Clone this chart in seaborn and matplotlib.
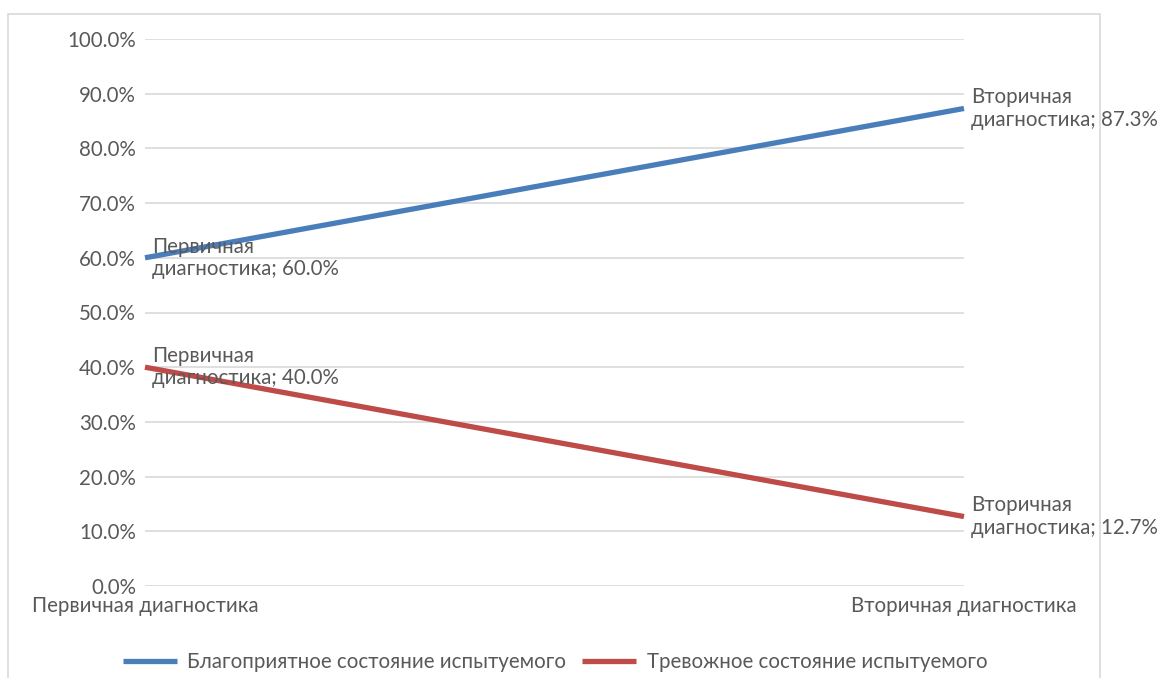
import matplotlib
matplotlib.use("Agg")
import matplotlib.pyplot as plt
import seaborn as sns
import pandas as pd
from matplotlib.patches import Rectangle

stages = ["Первичная диагностика", "Вторичная диагностика"]
favorable = [0.600, 0.873]
anxious = [0.400, 0.127]
series_names = ["Благоприятное состояние испытуемого", "Тревожное состояние испытуемого"]
y_ticks = [0.0, 0.1, 0.2, 0.3, 0.4, 0.5, 0.6, 0.7, 0.8, 0.9, 1.0]

sns.set_theme(style="white")
plt.rcParams['font.family'] = ['Lato', 'DejaVu Sans']

W, H = 1161, 678
DPI = 100
fig = plt.figure(figsize=(W / DPI, H / DPI), dpi=DPI)
ax = fig.add_axes([145 / W, 1 - 586 / H, (964 - 145) / W, (586 - 39) / H])

df = pd.DataFrame({
    "stage": stages * 2,
    "pos": list(range(len(stages))) * 2,
    "value": favorable + anxious,
    "series": [series_names[0]] * 2 + [series_names[1]] * 2,
})
palette = {series_names[0]: "#4A7EBB", series_names[1]: "#BE4B48"}
sns.lineplot(data=df, x="pos", y="value", hue="series", palette=palette,
             linewidth=3.8, ax=ax, legend=True, sort=False)
for line in ax.lines:
    line.set_clip_on(False)
    line.set_solid_capstyle("butt")

txt_col = "#595959"
fs = 14.8
ax.set_xlim(0, 1)
ax.set_ylim(0, 1)
ax.set_yticks(y_ticks)
ax.set_yticklabels([f"{v*100:.1f}%" for v in y_ticks], fontsize=fs, color=txt_col)
ax.set_xticks(range(len(stages)))
ax.set_xticklabels(stages, fontsize=fs, color=txt_col)
ax.tick_params(axis="both", length=0)
ax.tick_params(axis="y", pad=6.5)
ax.tick_params(axis="x", pad=7)
ax.grid(axis="y", color="#D9D9D9", linewidth=1.2)
ax.set_axisbelow(True)
for s in ax.spines.values():
    s.set_visible(False)
ax.set_xlabel("")
ax.set_ylabel("")

for vals in (favorable, anxious):
    for i, v in enumerate(vals):
        ax.annotate(f"{stages[i].split()[0]}\n{stages[i].split()[1]}; {v*100:.1f}%",
                    xy=(i, v), xytext=(5, 0), textcoords="offset points",
                    ha="left", va="center", fontsize=fs, color=txt_col,
                    linespacing=1.15, annotation_clip=False)

handles, labels = ax.get_legend_handles_labels()
leg = ax.legend(handles, labels, loc="center", bbox_to_anchor=(555 / W, 1 - 662 / H),
                bbox_transform=fig.transFigure, ncol=2, frameon=False, fontsize=fs,
                handlelength=2.65, handletextpad=0.5, columnspacing=0.75)
for t in leg.get_texts():
    t.set_color(txt_col)
for h in leg.get_lines():
    h.set_linewidth(3.8)

fig.patches.append(Rectangle((8 / W, -0.1), (1100 - 8) / W, 1 - 14 / H + 0.1,
                             transform=fig.transFigure, fill=False,
                             edgecolor="#D9D9D9", linewidth=1.2, zorder=0))

fig.savefig("out.png", dpi=DPI, facecolor="white")
